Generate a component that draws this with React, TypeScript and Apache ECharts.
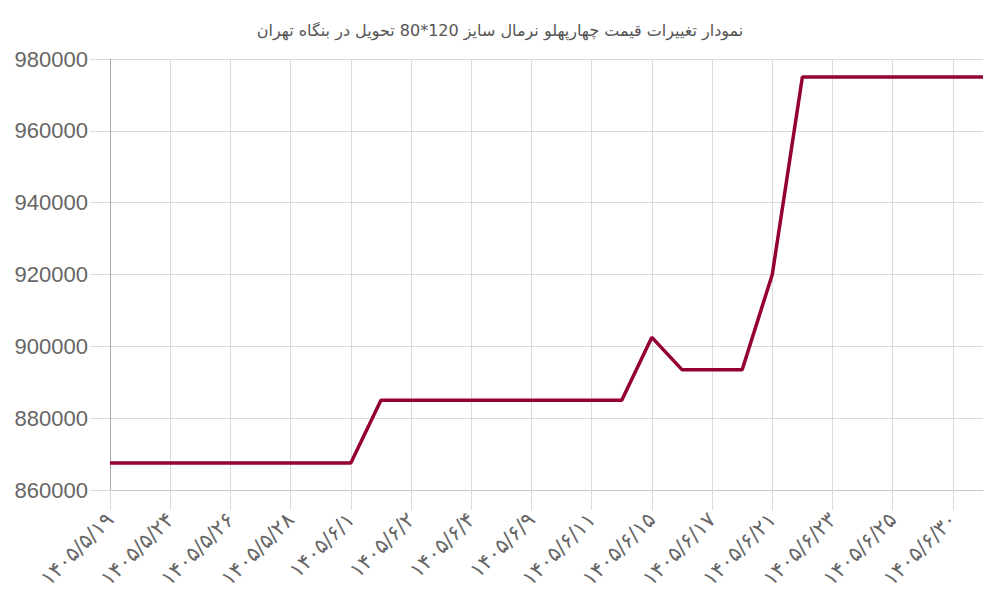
import React, { useEffect, useRef } from "react";
import * as echarts from "echarts";

const titleText = "نمودار تغییرات قیمت چهارپهلو نرمال سایز 120*80 تحویل در بنگاه تهران";

const categories = [
  "۱۴۰۵/۵/۱۹", "۱۴۰۵/۵/۲۱", "۱۴۰۵/۵/۲۴", "۱۴۰۵/۵/۲۵", "۱۴۰۵/۵/۲۶",
  "۱۴۰۵/۵/۲۷", "۱۴۰۵/۵/۲۸", "۱۴۰۵/۵/۳۱", "۱۴۰۵/۶/۱", "۱۴۰۵/۶/۱ ",
  "۱۴۰۵/۶/۲", "۱۴۰۵/۶/۳", "۱۴۰۵/۶/۴", "۱۴۰۵/۶/۸", "۱۴۰۵/۶/۹",
  "۱۴۰۵/۶/۱۰", "۱۴۰۵/۶/۱۱", "۱۴۰۵/۶/۱۴", "۱۴۰۵/۶/۱۵", "۱۴۰۵/۶/۱۶",
  "۱۴۰۵/۶/۱۷", "۱۴۰۵/۶/۱۸", "۱۴۰۵/۶/۲۱", "۱۴۰۵/۶/۲۲", "۱۴۰۵/۶/۲۳",
  "۱۴۰۵/۶/۲۴", "۱۴۰۵/۶/۲۵", "۱۴۰۵/۶/۲۸", "۱۴۰۵/۶/۳۰", "۱۴۰۵/۶/۳۱",
];

const prices = [
  867500, 867500, 867500, 867500, 867500, 867500, 867500, 867500, 867500,
  885000, 885000, 885000, 885000, 885000, 885000, 885000, 885000, 885000,
  902500, 893500, 893500, 893500, 920000,
  975000, 975000, 975000, 975000, 975000, 975000, 975000,
];

const yMin = 860000;
const yMax = 980000;
const yInterval = 20000;

export default function App() {
  const ref = useRef<HTMLDivElement>(null);
  useEffect(() => {
    if (!ref.current) return;
    const chart = echarts.init(ref.current, null, { renderer: "svg" });
    chart.setOption({
      animation: false,
      backgroundColor: "#ffffff",
      title: {
        text: titleText,
        left: "center",
        top: 17,
        textStyle: {
          fontFamily: "DejaVu Sans",
          fontSize: 16,
          fontWeight: "normal",
          color: "#555555",
        },
      },
      grid: { left: 110, right: 17, top: 59, bottom: 110, containLabel: false },
      xAxis: {
        type: "category",
        data: categories,
        boundaryGap: false,
        axisLine: { show: true, lineStyle: { color: "#c8c8c8", width: 1 } },
        axisTick: {
          show: true,
          interval: 1,
          length: 20,
          lineStyle: { color: "#dadada", width: 1 },
        },
        axisLabel: {
          interval: 1,
          rotate: 45,
          margin: 26,
          fontSize: 21,
          color: "#666666",
          fontFamily: "DejaVu Sans",
        },
        splitLine: {
          show: true,
          interval: 1,
          lineStyle: { color: "#dadada", width: 1 },
        },
      },
      yAxis: {
        type: "value",
        min: yMin,
        max: yMax,
        interval: yInterval,
        axisLine: { show: true, lineStyle: { color: "#aaaaaa", width: 1 } },
        axisTick: { show: true, length: 20, lineStyle: { color: "#dadada", width: 1 } },
        axisLabel: {
          margin: 22,
          fontSize: 22,
          color: "#666666",
          fontFamily: "Liberation Sans",
          formatter: (v: number) => String(v),
        },
        splitLine: { show: true, lineStyle: { color: "#dadada", width: 1 } },
      },
      series: [
        {
          type: "line",
          data: prices,
          showSymbol: false,
          symbol: "none",
          lineStyle: { color: "#940035", width: 3.5 },
          itemStyle: { color: "#940035" },
        },
      ],
    });
    return () => chart.dispose();
  }, []);
  return <div ref={ref} style={{ width: 1000, height: 600, marginLeft: -8, marginTop: -8 }} />;
}
